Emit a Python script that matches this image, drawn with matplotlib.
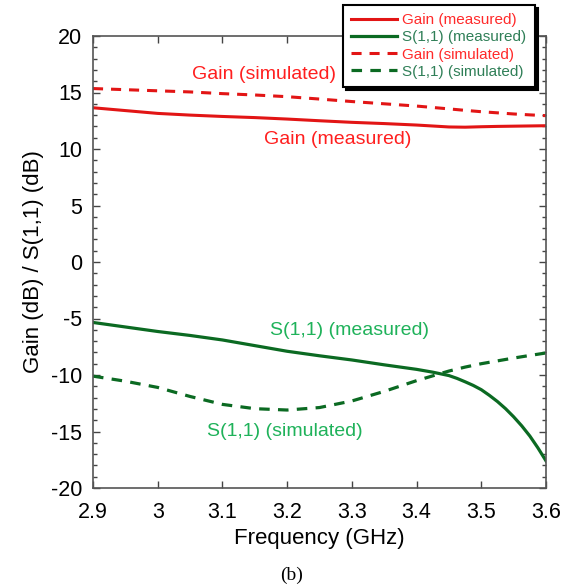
import numpy as np
import matplotlib.pyplot as plt

plt.rcParams['font.family'] = ['Liberation Sans', 'DejaVu Sans']
plt.rcParams['axes.unicode_minus'] = False

# frequency grid (GHz) for the gain curves and simulated S11
freq = [2.9, 2.95, 3.0, 3.05, 3.1, 3.15, 3.2, 3.25, 3.3, 3.35, 3.4, 3.45,
        3.475, 3.5, 3.525, 3.55, 3.575, 3.6]

gain_meas = [13.65, 13.4, 13.15, 13.0, 12.88, 12.78, 12.65, 12.5, 12.36, 12.25,
             12.12, 11.95, 11.93, 11.97, 12.0, 12.02, 12.04, 12.06]
gain_sim = [15.35, 15.25, 15.15, 15.05, 14.9, 14.78, 14.63, 14.42, 14.2, 14.0,
            13.8, 13.55, 13.42, 13.3, 13.2, 13.1, 13.02, 12.95]
s11_sim = [-10.1, -10.55, -11.1, -11.9, -12.6, -12.98, -13.1, -12.88, -12.3, -11.45,
           -10.5, -9.65, -9.3, -9.0, -8.75, -8.5, -8.27, -8.05]

# measured S11 is sampled more densely where it drops off
freq_s11m = [2.9, 2.95, 3.0, 3.05, 3.1, 3.15, 3.2, 3.25, 3.3, 3.35, 3.4, 3.425,
             3.45, 3.4625, 3.475, 3.4875, 3.5, 3.5125, 3.525, 3.5375, 3.55,
             3.5625, 3.575, 3.5875, 3.6]
s11_meas = [-5.35, -5.75, -6.15, -6.5, -6.9, -7.4, -7.9, -8.3, -8.67, -9.1,
            -9.5, -9.75, -10.05, -10.3, -10.6, -10.92, -11.3, -11.8, -12.35,
            -12.98, -13.7, -14.5, -15.4, -16.45, -17.6]

red = '#e21515'
dkgreen = '#0b6a22'

fig = plt.figure(figsize=(5.74, 5.88), dpi=100)
ax = fig.add_axes([93 / 574, 1 - 488 / 588, 453 / 574, 452 / 588])

ax.plot(freq, gain_meas, color=red, lw=2.2, label='Gain (measured)')
ax.plot(freq_s11m, s11_meas, color=dkgreen, lw=2.3, label='S(1,1) (measured)')
ax.plot(freq, gain_sim, color=red, lw=2.2, dashes=(3.3, 2.6), label='Gain (simulated)')
ax.plot(freq, s11_sim, color=dkgreen, lw=2.3, dashes=(3.3, 2.6), label='S(1,1) (simulated)')

ax.set_xlim(2.9, 3.6)
ax.set_ylim(-20, 20)
ax.set_xticks(np.arange(2.9, 3.61, 0.1))
ax.set_xticklabels(['2.9', '3', '3.1', '3.2', '3.3', '3.4', '3.5', '3.6'])
ax.set_yticks(np.arange(-20, 21, 5))
ax.set_yticks(np.arange(-20, 21, 1), minor=True)
ax.tick_params(direction='in', top=True, right=True, labelsize=15.5, colors='#444444',
               labelcolor='black', length=5, width=1)
ax.tick_params(axis='y', which='major', pad=8)
ax.tick_params(axis='x', which='major', pad=10)
ax.tick_params(which='minor', direction='in', right=True, length=3, width=1,
               colors='#444444')
for s in ax.spines.values():
    s.set_color('#555555')
    s.set_linewidth(1.2)

ax.set_xlabel('Frequency (GHz)', fontsize=16, labelpad=4)
ax.set_ylabel('Gain (dB) / S(1,1) (dB)', fontsize=16, labelpad=5)

ax.text(3.165, 16.55, 'Gain (simulated)', color='#ff1f1f', fontsize=14,
        ha='center', va='center')
ax.text(3.278, 10.8, 'Gain (measured)', color='#ff1f1f', fontsize=14,
        ha='center', va='center')
ax.text(3.297, -6.08, 'S(1,1) (measured)', color='#1fb25a', fontsize=14,
        ha='center', va='center')
ax.text(3.196, -15.04, 'S(1,1) (simulated)', color='#1fb25a', fontsize=14,
        ha='center', va='center')

leg = fig.legend(loc='upper right', bbox_to_anchor=(535 / 574, 1 - 5 / 588),
                 fontsize=11, handlelength=3.0, handletextpad=0.35,
                 labelspacing=0.2, borderpad=0.55, borderaxespad=0,
                 fancybox=False, framealpha=1, edgecolor='black',
                 shadow={'color': 'black', 'alpha': 1})
leg.get_frame().set_linewidth(1.5)
for t, c in zip(leg.get_texts(), ['#ff2a2a', '#2f7f57', '#ff2a2a', '#2f7f57']):
    t.set_color(c)

fig.text(292 / 574, 1 - 575 / 588, '(b)', family='Liberation Serif', fontsize=14,
         ha='center', va='center')

fig.savefig('out.png', dpi=100)
